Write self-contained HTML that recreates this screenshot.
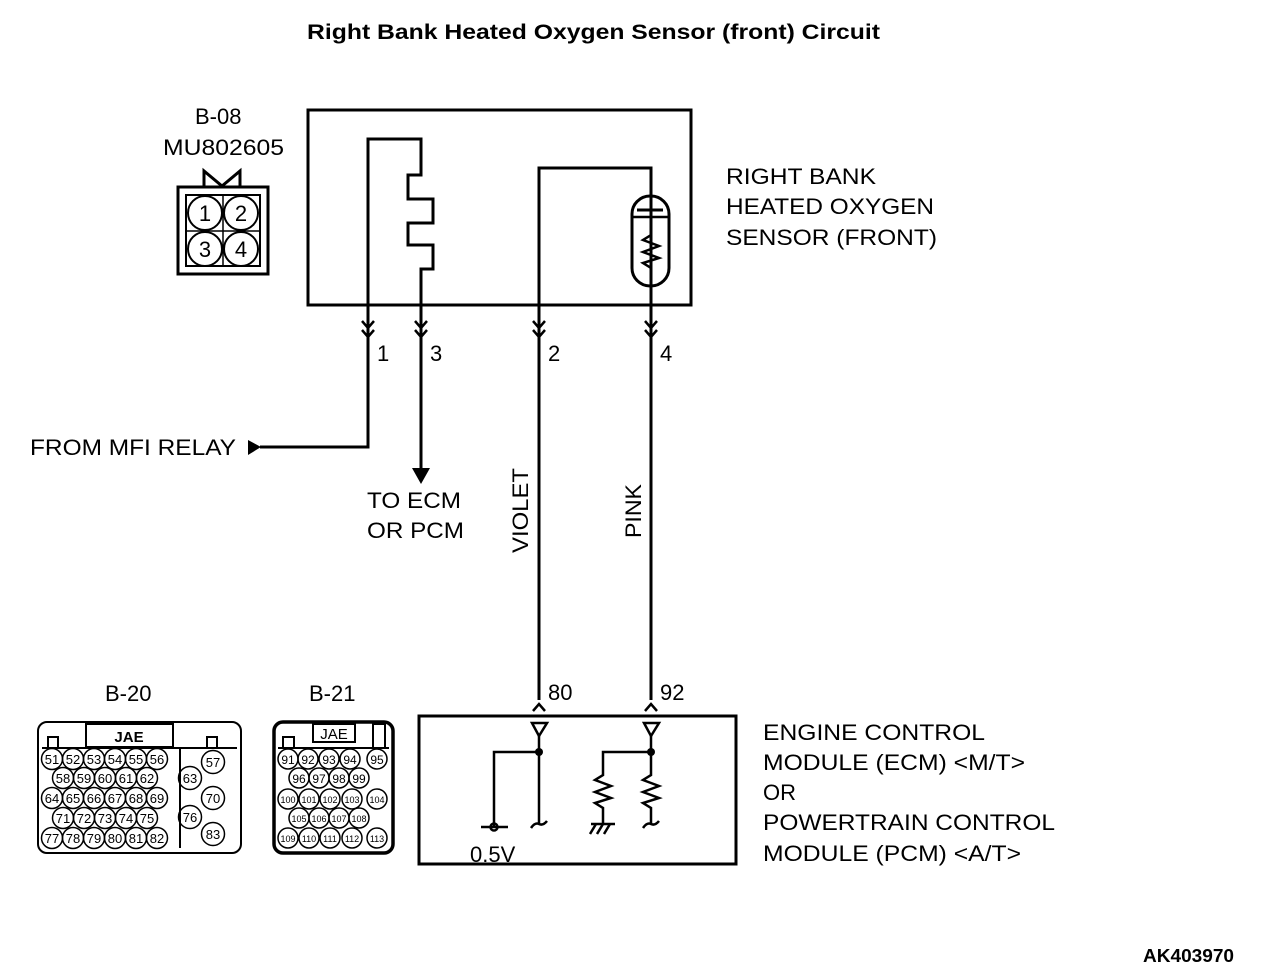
<!DOCTYPE html>
<html><head><meta charset="utf-8"><style>
html,body{margin:0;padding:0;background:#fff;}
svg{display:block;}
text{font-family:"Liberation Sans",Arial,sans-serif;fill:#000;}
</style></head><body>
<svg width="1264" height="978" viewBox="0 0 1264 978" xmlns="http://www.w3.org/2000/svg">
<g font-size="22">
<text x="307" y="39" font-weight="bold" font-size="21" textLength="573" lengthAdjust="spacingAndGlyphs">Right Bank Heated Oxygen Sensor (front) Circuit</text>
<text x="195" y="124">B-08</text>
<text x="163" y="155" textLength="121" lengthAdjust="spacingAndGlyphs">MU802605</text>
<text x="726" y="184" textLength="150" lengthAdjust="spacingAndGlyphs">RIGHT BANK</text>
<text x="726" y="214" textLength="208" lengthAdjust="spacingAndGlyphs">HEATED OXYGEN</text>
<text x="726" y="245" textLength="211" lengthAdjust="spacingAndGlyphs">SENSOR (FRONT)</text>
<text x="377" y="361">1</text><text x="430" y="361">3</text>
<text x="548" y="361">2</text><text x="660" y="361">4</text>
<text x="30" y="455" textLength="206" lengthAdjust="spacingAndGlyphs">FROM MFI RELAY</text>
<text x="367" y="508" textLength="94" lengthAdjust="spacingAndGlyphs">TO ECM</text>
<text x="367" y="538" textLength="97" lengthAdjust="spacingAndGlyphs">OR PCM</text>
<text transform="translate(528,553) rotate(-90)" textLength="85" lengthAdjust="spacingAndGlyphs">VIOLET</text>
<text transform="translate(641,538) rotate(-90)" textLength="54" lengthAdjust="spacingAndGlyphs">PINK</text>
<text x="548" y="700">80</text><text x="660" y="700">92</text>
<text x="105" y="701">B-20</text><text x="309" y="701">B-21</text>
<text x="470" y="862">0.5V</text>
<text x="763" y="740" textLength="222" lengthAdjust="spacingAndGlyphs">ENGINE CONTROL</text>
<text x="763" y="770" textLength="262" lengthAdjust="spacingAndGlyphs">MODULE (ECM) &lt;M/T&gt;</text>
<text x="763" y="800">OR</text>
<text x="763" y="830" textLength="292" lengthAdjust="spacingAndGlyphs">POWERTRAIN CONTROL</text>
<text x="763" y="861" textLength="258" lengthAdjust="spacingAndGlyphs">MODULE (PCM) &lt;A/T&gt;</text>
<text x="1143" y="962" font-weight="bold" font-size="18" textLength="91" lengthAdjust="spacingAndGlyphs">AK403970</text>
</g>

<g fill="none" stroke="#000" stroke-width="3">
<rect x="308" y="110" width="383" height="195"/>
<polyline points="260,447 368,447 368,139 421,139 421,175 408,175 408,199 433,199 433,223 408,223 408,245 433,245 433,269 421,269 421,468"/>
<polyline points="539,700 539,168 651,168 651,700"/>
<rect x="632" y="196" width="37" height="90" rx="18"/>
<line x1="637" y1="210" x2="663" y2="210"/>
<line x1="632" y1="217" x2="669" y2="217" stroke-width="2.5"/>
<polyline points="651,217 651,235 643,240 659,246 643,252 659,258 643,263 651,268 651,286" stroke-width="2.5"/>
<g stroke-width="2.5">
<polyline points="362,321 368,328 374,321"/><polyline points="362,330 368,337 374,330"/>
<polyline points="415,321 421,328 427,321"/><polyline points="415,330 421,337 427,330"/>
<polyline points="533,321 539,328 545,321"/><polyline points="533,330 539,337 545,330"/>
<polyline points="645,321 651,328 657,321"/><polyline points="645,330 651,337 657,330"/>
<polyline points="533,711 539,704 545,711"/><polyline points="645,711 651,704 657,711"/>
</g>
<rect x="178" y="187" width="90" height="87"/>
<rect x="186" y="195" width="74" height="71" stroke-width="2"/>
<line x1="223" y1="195" x2="223" y2="266" stroke-width="1.5"/>
<line x1="186" y1="231" x2="260" y2="231" stroke-width="1.5"/>
<g stroke-width="2"><circle cx="205" cy="213" r="17"/><circle cx="241" cy="213" r="17"/><circle cx="205" cy="249" r="17"/><circle cx="241" cy="249" r="17"/></g>
<polyline points="204,187 204,171 222,186 240,171 240,187"/>
<rect x="419" y="716" width="317" height="148"/>
<g stroke-width="2.5">
<polygon points="532,723 547,723 539,736"/>
<polygon points="644,723 659,723 651,736"/>
<polyline points="539,736 539,823"/>
<path d="M531,828 q4,-6 8,-4 q4,2 8,-3"/>
<polyline points="539,752 494,752 494,826"/>
<line x1="481" y1="827" x2="508" y2="827"/>
<circle cx="494" cy="827" r="3.5"/>
<polyline points="651,736 651,775 643,780 659,786 643,792 659,798 643,803 651,808 651,823"/>
<path d="M643,828 q4,-6 8,-4 q4,2 8,-3"/>
<polyline points="651,752 603,752 603,775 595,780 611,786 595,792 611,798 595,803 603,808 603,823"/>
<line x1="591" y1="824" x2="615" y2="824"/>
<line x1="596" y1="824" x2="590" y2="834"/><line x1="603" y1="824" x2="597" y2="834"/><line x1="610" y1="824" x2="604" y2="834"/>
</g>
</g>
<g fill="#000">
<circle cx="539" cy="752" r="4"/><circle cx="651" cy="752" r="4"/>
<polygon points="248,440 248,455 261,447"/>
<polygon points="412,468 430,468 421,484"/>
</g>
<g font-size="22" text-anchor="middle">
<text x="205" y="221">1</text><text x="241" y="221">2</text><text x="205" y="257">3</text><text x="241" y="257">4</text>
</g>

<g fill="none" stroke="#000" stroke-width="2">
<rect x="38" y="722" width="203" height="131" rx="9"/>
<rect x="86" y="724" width="87" height="23"/>
<rect x="48" y="737" width="10" height="11"/><rect x="207" y="737" width="10" height="11"/>
<line x1="42" y1="748" x2="237" y2="748"/>
<line x1="180" y1="748" x2="180" y2="848"/>
</g>
<g fill="none" stroke="#000" stroke-width="1.5">
<circle cx="52" cy="759" r="10.5"/><circle cx="73" cy="759" r="10.5"/><circle cx="94" cy="759" r="10.5"/><circle cx="115" cy="759" r="10.5"/><circle cx="136" cy="759" r="10.5"/><circle cx="157" cy="759" r="10.5"/>
<circle cx="63" cy="778" r="10.5"/><circle cx="84" cy="778" r="10.5"/><circle cx="105" cy="778" r="10.5"/><circle cx="126" cy="778" r="10.5"/><circle cx="147" cy="778" r="10.5"/>
<circle cx="52" cy="798" r="10.5"/><circle cx="73" cy="798" r="10.5"/><circle cx="94" cy="798" r="10.5"/><circle cx="115" cy="798" r="10.5"/><circle cx="136" cy="798" r="10.5"/><circle cx="157" cy="798" r="10.5"/>
<circle cx="63" cy="818" r="10.5"/><circle cx="84" cy="818" r="10.5"/><circle cx="105" cy="818" r="10.5"/><circle cx="126" cy="818" r="10.5"/><circle cx="147" cy="818" r="10.5"/>
<circle cx="52" cy="838" r="10.5"/><circle cx="73" cy="838" r="10.5"/><circle cx="94" cy="838" r="10.5"/><circle cx="115" cy="838" r="10.5"/><circle cx="136" cy="838" r="10.5"/><circle cx="157" cy="838" r="10.5"/>
<circle cx="213" cy="762" r="11.5"/><circle cx="190" cy="778" r="11.5"/><circle cx="213" cy="798" r="11.5"/><circle cx="190" cy="817" r="11.5"/><circle cx="213" cy="834" r="11.5"/>
</g>
<g font-size="13" text-anchor="middle">
<text x="52" y="764">51</text><text x="73" y="764">52</text><text x="94" y="764">53</text><text x="115" y="764">54</text><text x="136" y="764">55</text><text x="157" y="764">56</text>
<text x="63" y="783">58</text><text x="84" y="783">59</text><text x="105" y="783">60</text><text x="126" y="783">61</text><text x="147" y="783">62</text>
<text x="52" y="803">64</text><text x="73" y="803">65</text><text x="94" y="803">66</text><text x="115" y="803">67</text><text x="136" y="803">68</text><text x="157" y="803">69</text>
<text x="63" y="823">71</text><text x="84" y="823">72</text><text x="105" y="823">73</text><text x="126" y="823">74</text><text x="147" y="823">75</text>
<text x="52" y="843">77</text><text x="73" y="843">78</text><text x="94" y="843">79</text><text x="115" y="843">80</text><text x="136" y="843">81</text><text x="157" y="843">82</text>
<text x="213" y="767">57</text><text x="190" y="783">63</text><text x="213" y="803">70</text><text x="190" y="822">76</text><text x="213" y="839">83</text>
<text x="129" y="742" font-size="15" font-weight="bold" font-family="Liberation Serif,serif">JAE</text>
</g>

<g fill="none" stroke="#000">
<rect x="274" y="722" width="119" height="131" rx="9" stroke-width="3.5"/>
<rect x="313" y="724" width="42" height="18" stroke-width="2"/>
<rect x="373" y="724" width="12" height="24" stroke-width="2"/>
<rect x="283" y="737" width="11" height="11" stroke-width="2"/>
<line x1="278" y1="748" x2="389" y2="748" stroke-width="2"/>
</g>
<g fill="none" stroke="#000" stroke-width="1.5">
<circle cx="288" cy="759" r="10"/><circle cx="308" cy="759" r="10"/><circle cx="329" cy="759" r="10"/><circle cx="350" cy="759" r="10"/><circle cx="377" cy="759" r="10"/>
<circle cx="299" cy="778" r="10"/><circle cx="319" cy="778" r="10"/><circle cx="339" cy="778" r="10"/><circle cx="359" cy="778" r="10"/>
<circle cx="288" cy="799" r="10"/><circle cx="309" cy="799" r="10"/><circle cx="330" cy="799" r="10"/><circle cx="352" cy="799" r="10"/><circle cx="377" cy="799" r="10"/>
<circle cx="299" cy="818" r="10"/><circle cx="319" cy="818" r="10"/><circle cx="339" cy="818" r="10"/><circle cx="359" cy="818" r="10"/>
<circle cx="288" cy="838" r="10"/><circle cx="309" cy="838" r="10"/><circle cx="330" cy="838" r="10"/><circle cx="352" cy="838" r="10"/><circle cx="377" cy="838" r="10"/>
</g>
<g font-size="12" text-anchor="middle">
<text x="288" y="764">91</text><text x="308" y="764">92</text><text x="329" y="764">93</text><text x="350" y="764">94</text><text x="377" y="764">95</text>
<text x="299" y="783">96</text><text x="319" y="783">97</text><text x="339" y="783">98</text><text x="359" y="783">99</text>
<g font-size="9"><text x="288" y="803">100</text><text x="309" y="803">101</text><text x="330" y="803">102</text><text x="352" y="803">103</text><text x="377" y="803">104</text>
<text x="299" y="822">105</text><text x="319" y="822">106</text><text x="339" y="822">107</text><text x="359" y="822">108</text>
<text x="288" y="842">109</text><text x="309" y="842">110</text><text x="330" y="842">111</text><text x="352" y="842">112</text><text x="377" y="842">113</text></g>
<text x="334" y="739" font-size="15" font-family="Liberation Serif,serif">JAE</text>
</g>
</svg>
</body></html>
